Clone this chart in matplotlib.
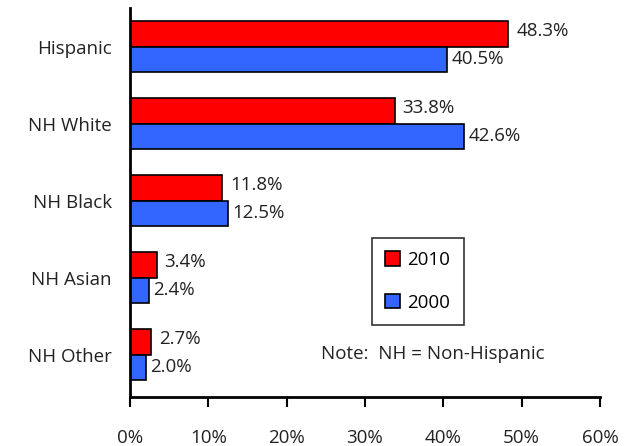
import matplotlib.pyplot as plt
import numpy as np

plt.rcParams['font.family'] = ['Open Sans', 'DejaVu Sans']

groups = ['Hispanic', 'NH White', 'NH Black', 'NH Asian', 'NH Other']
pct_2010 = [48.3, 33.8, 11.8, 3.4, 2.7]
pct_2000 = [40.5, 42.6, 12.5, 2.4, 2.0]
xticks = [0, 10, 20, 30, 40, 50, 60]

y = np.arange(len(groups))
h = 0.33
fs = 13.5

fig = plt.figure(figsize=(6.44, 4.46), dpi=100)
ax = fig.add_axes([130/644, 1 - 397/446, 470/644, 389/446])

ax.barh(y - h/2, pct_2010, h, color='#FF0000', edgecolor='black', linewidth=1.2, label='2010')
ax.barh(y + h/2, pct_2000, h, color='#3366FF', edgecolor='black', linewidth=1.2, label='2000')

for v, yy in zip(pct_2010, y - h/2):
    ax.text(v + 1.0, yy - 0.04, f'{v:.1f}%', va='center', ha='left', fontsize=fs, color='#222222')
for v, yy in zip(pct_2000, y + h/2):
    ax.text(v + 0.6, yy, f'{v:.1f}%', va='center', ha='left', fontsize=fs, color='#222222')

ax.set_xlim(0, 60)
ax.set_ylim(4.55, -0.5)
ax.set_xticks(xticks)
ax.set_xticklabels([f'{t}%' for t in xticks], fontsize=fs, color='#222222')
ax.set_yticks(y)
ax.set_yticklabels(groups, fontsize=fs, color='#222222')
ax.tick_params(axis='x', length=7, width=1.5, pad=16, direction='out')
ax.tick_params(axis='y', length=0, pad=13)

for s in ['top', 'right']:
    ax.spines[s].set_visible(False)
ax.spines['left'].set_linewidth(2)
ax.spines['bottom'].set_linewidth(2)

leg = ax.legend(loc='upper left', bbox_to_anchor=((372-130)/470, (397-238)/389),
                borderaxespad=0, fontsize=fs, frameon=True, fancybox=False,
                edgecolor='black', handlelength=0.8, handleheight=0.8,
                handletextpad=0.4, labelspacing=1.3, borderpad=0.7)
leg.get_frame().set_linewidth(1.2)

ax.text(0.645, (397-354)/389, 'Note:  NH = Non-Hispanic', transform=ax.transAxes,
        ha='center', va='center', fontsize=fs, color='#222222')

fig.savefig('out.png', dpi=100)
